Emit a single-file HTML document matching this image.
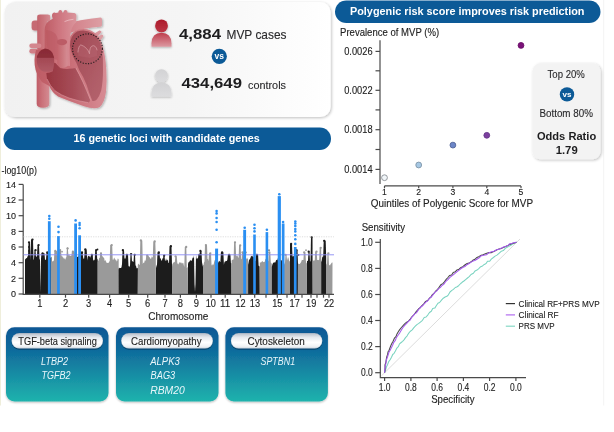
<!DOCTYPE html>
<html><head><meta charset="utf-8"><title>MVP genetics</title>
<style>
html,body{margin:0;padding:0;background:#fff;}
body{width:614px;height:432px;overflow:hidden;font-family:'Liberation Sans',sans-serif;}
svg{display:block;font-family:'Liberation Sans',sans-serif;}
</style></head><body>
<svg width="614" height="432" viewBox="0 0 614 432">
<defs>
<linearGradient id="card" x1="0" x2="1" y1="0" y2="0"><stop offset="0" stop-color="#f1f1f1"/><stop offset="0.55" stop-color="#f5f5f5"/><stop offset="1" stop-color="#ffffff"/></linearGradient>
<linearGradient id="gbox" x1="0" x2="0" y1="0" y2="1"><stop offset="0" stop-color="#0c5795"/><stop offset="0.3" stop-color="#0f6a9c"/><stop offset="1" stop-color="#20b3ad"/></linearGradient>
<linearGradient id="pill" x1="0" x2="0" y1="0" y2="1"><stop offset="0" stop-color="#b4bcc8"/><stop offset="0.28" stop-color="#e6e9ee"/><stop offset="0.6" stop-color="#ffffff"/><stop offset="0.85" stop-color="#f1f3f6"/><stop offset="1" stop-color="#cdd4dc"/></linearGradient>
<filter id="sh3" x="-10%" y="-30%" width="120%" height="170%"><feGaussianBlur in="SourceAlpha" stdDeviation="0.7"/><feOffset dx="0.3" dy="0.8"/><feComponentTransfer><feFuncA type="linear" slope="0.45"/></feComponentTransfer><feMerge><feMergeNode/><feMergeNode in="SourceGraphic"/></feMerge></filter>
<linearGradient id="redp" x1="0" x2="0" y1="0" y2="1"><stop offset="0" stop-color="#ab1b2a"/><stop offset="1" stop-color="#bd3544"/></linearGradient>
<linearGradient id="redpb" x1="0" x2="0" y1="0" y2="1"><stop offset="0" stop-color="#be3c4b"/><stop offset="1" stop-color="#dc9aa2"/></linearGradient>
<linearGradient id="greyp" x1="0" x2="0" y1="0" y2="1"><stop offset="0" stop-color="#d2d2d4"/><stop offset="1" stop-color="#dcdcde"/></linearGradient>
<filter id="sh" x="-10%" y="-10%" width="120%" height="130%"><feGaussianBlur in="SourceAlpha" stdDeviation="1.5"/><feOffset dx="0.5" dy="1"/><feComponentTransfer><feFuncA type="linear" slope="0.26"/></feComponentTransfer><feMerge><feMergeNode/><feMergeNode in="SourceGraphic"/></feMerge></filter>
<filter id="sh2" x="-10%" y="-10%" width="120%" height="130%"><feGaussianBlur in="SourceAlpha" stdDeviation="0.9"/><feOffset dx="0.4" dy="0.8"/><feComponentTransfer><feFuncA type="linear" slope="0.28"/></feComponentTransfer><feMerge><feMergeNode/><feMergeNode in="SourceGraphic"/></feMerge></filter>
<filter id="b03"><feGaussianBlur stdDeviation="0.35"/></filter>
</defs>
<rect width="614" height="432" fill="#fff"/>
<rect x="0" y="0" width="1" height="405.5" fill="#efeedb"/>
<line x1="603.7" y1="0" x2="603.7" y2="405.5" stroke="#f3f3f3" stroke-width="1"/>

<rect x="4.6" y="2" width="326" height="115" rx="10.5" fill="url(#card)" filter="url(#sh)"/>
<defs>
<linearGradient id="hTube" x1="0" x2="1" y1="0" y2="0"><stop offset="0" stop-color="#c3626b"/><stop offset="0.5" stop-color="#cb767d"/><stop offset="1" stop-color="#d58d94"/></linearGradient>
<linearGradient id="hTube2" x1="0" x2="1" y1="0" y2="0"><stop offset="0" stop-color="#c05d67"/><stop offset="0.5" stop-color="#cc757d"/><stop offset="1" stop-color="#d48b92"/></linearGradient>
<linearGradient id="hAorta" x1="0" x2="1" y1="0" y2="0"><stop offset="0" stop-color="#be5c64"/><stop offset="0.5" stop-color="#cf7781"/><stop offset="1" stop-color="#da959c"/></linearGradient>
<linearGradient id="hPA" x1="0" x2="1" y1="0" y2="0"><stop offset="0" stop-color="#cf7881"/><stop offset="1" stop-color="#dd9ea4"/></linearGradient>
<linearGradient id="hWall" x1="0" x2="1" y1="0" y2="0"><stop offset="0" stop-color="#bd5a63"/><stop offset="0.5" stop-color="#c96e77"/><stop offset="1" stop-color="#d78c94"/></linearGradient>
<linearGradient id="hCav" x1="0" x2="1" y1="0" y2="0"><stop offset="0" stop-color="#97353f"/><stop offset="0.6" stop-color="#a64c57"/><stop offset="1" stop-color="#b3616b"/></linearGradient>
<linearGradient id="hCavL" x1="0" x2="1" y1="0" y2="1"><stop offset="0" stop-color="#9f4550"/><stop offset="0.5" stop-color="#ab5661"/><stop offset="1" stop-color="#b5646e"/></linearGradient>
<linearGradient id="hRA" x1="0" x2="0" y1="0" y2="1"><stop offset="0" stop-color="#892a35"/><stop offset="0.38" stop-color="#8c2e39"/><stop offset="0.4" stop-color="#a34853"/><stop offset="1" stop-color="#b05a65"/></linearGradient>
<filter id="hsh" x="-10%" y="-10%" width="125%" height="125%"><feGaussianBlur in="SourceAlpha" stdDeviation="1.1"/><feOffset dx="0.8" dy="0.8"/><feComponentTransfer><feFuncA type="linear" slope="0.3"/></feComponentTransfer><feMerge><feMergeNode/><feMergeNode in="SourceGraphic"/></feMerge></filter>
<filter id="hb"><feGaussianBlur stdDeviation="0.3"/></filter>
</defs>
<g filter="url(#hsh)"><g filter="url(#hb)">
<!-- right pulmonary artery band -->
<path d="M62 25 Q80 19.5 100.5 17.6 Q102 17.6 102 19.5 L102 25 Q102 26.8 100.3 26.8 Q84 27.5 70 33 Z" fill="url(#hPA)"/>
<!-- right pulmonary vein stubs -->
<path d="M92 35 L99.3 30.4 Q101.2 30.2 101.6 32 L95.5 38.5 Z" fill="#d9959c"/>
<path d="M95 38.5 L101.5 34.6 Q103.6 34.6 103.4 36.6 L99 42 Z" fill="#dc9ca2"/>
<!-- left stubs -->
<!-- SVC -->
<rect x="31.6" y="20.4" width="12" height="10.2" rx="3" fill="#c66a73"/>
<path d="M37.2 17 Q37.2 14.6 40 14.6 L47.6 14.6 Q50.2 14.6 50.2 17 L50.2 20.6 L47.4 21.5 L47.4 64 L37.3 64 Z" fill="url(#hTube)"/>
<rect x="29.3" y="43.4" width="12.2" height="4.7" rx="2.3" fill="#d4868e"/>
<rect x="29.3" y="48.7" width="9.5" height="4.9" rx="2.4" fill="#d17e86"/>
<!-- IVC -->
<path d="M36.7 70 L49.3 70 L49.3 104 Q49 107.8 43 107.8 Q37 107.8 36.7 104 Z" fill="url(#hTube2)"/>
<!-- heart outer wall -->
<path d="M36 50 Q33.2 60 35.6 70 Q37.2 76 42 82 L49.3 86 Q52 92.5 58 96.5 Q70 101.5 84 106.3 Q94 109.5 99.5 107.3 Q104.5 103 106 92 Q107 80 106.3 70 Q105.5 55 102 44 Q99 34.5 91 30.5 Q82 27.5 75 31 Q69 35 68 44 L50 48 Z" fill="url(#hWall)"/>
<!-- aorta body -->
<path d="M44.6 64 L44.6 30 Q45 22.5 50.5 20 L52.6 18.8 L52 16 Q52 13.9 52.6 13.6 Q54 11.6 55.8 13 L58.4 12.6 L58.5 11.2 Q60.2 8.8 62 11 L62.1 12.4 L63.6 12.3 L63.7 11 Q65.5 8.8 67.3 11 L67.4 12.5 L74 12.9 Q76.5 13.2 76.4 16 L76 22.5 Q72.5 25 71 31 Q69.5 40 69.5 50 L70 66 Z" fill="url(#hAorta)"/>
<!-- darker inner aortic arc -->
<path d="M46.2 30 Q52 30.5 55.5 34 Q58.5 38 58.3 46 L58 60 L50 58 Q48 50 46.8 44 Z" fill="#b9565f" opacity="0.5"/>
<!-- light highlight line -->
<path d="M64.5 21.6 Q69 19.6 73.5 19.3" stroke="#f0c5ca" stroke-width="0.8" fill="none" opacity="0.9"/>
<!-- left atrium / LV cavity -->
<path d="M76.3 62.8 Q71.5 55 70 46 Q69.8 36 77 31.6 Q85 28.8 92.5 33 Q99 37.5 101.5 47 Q103.5 58 103 70 Q103 82 101.2 90.6 Q99.5 96.5 96.8 99.4 Q94.5 101.5 92.4 100.9 Q89 93 86.6 84.8 Q83 76 79.2 70.1 Z" fill="url(#hCavL)"/>
<!-- RV cavity -->
<path d="M46.3 73 Q50 72.6 52.9 70.9 Q52 66.5 53.3 64 Q54.4 61.8 56 63.4 Q58.5 66.5 60.2 67.9 Q64.5 69.3 69 68.7 Q72.5 68.6 75.6 67.9 Q79.5 75 83.6 83.3 Q87.5 92 90.2 99.4 Q90 102.2 88 102.4 Q78 101 69 98 Q60.5 95 54.3 90.6 Q49.5 85.5 47 78.9 Z" fill="url(#hCav)"/>
<!-- pulmonary trunk cylinder -->
<path d="M56.8 42 L67.1 42 L67.6 66 Q64 69 60.2 67.6 L57.3 64 Z" fill="url(#hTube)"/>
<ellipse cx="61.95" cy="42.1" rx="5.15" ry="3.2" fill="#bc5c66"/>
<!-- right atrium -->
<path d="M36.6 60 Q36.8 50.5 45 48.6 Q52.4 49.2 54 57 Q54.8 65 52.6 71.2 Q47 72.6 42 71 Q36.9 67.5 36.6 60 Z" fill="url(#hRA)"/>
<!-- wall highlights -->
<path d="M90.5 99.8 Q86.5 90 83 82 Q79 73.5 75.9 68" stroke="#dc9aa1" stroke-width="0.9" fill="none" opacity="0.8"/>
<path d="M47 79 Q50 86 55 90.8 Q61 95.2 69 98 Q79 101.2 88 102.6" stroke="#dc9aa1" stroke-width="0.8" fill="none" opacity="0.7"/>
<!-- valve leaflets -->
<path d="M77.9 52.4 Q78.6 45.6 80.8 44.9 Q84 45.8 86.6 48.6 Q88.8 50.8 89.5 53.8 Q89.6 47.4 91.8 46.1 Q93.6 45.2 94.9 46.2 Q96.8 47.8 97.1 50.3 L97 56 L89.5 58 L78.5 56 Z" fill="#b96672" opacity="0.35"/>
<path d="M77.9 52.4 Q78.6 45.6 80.8 44.9 Q84 45.8 86.6 48.6 Q88.8 50.8 89.5 53.8 Q89.6 47.4 91.8 46.1 Q93.6 45.2 94.9 46.2 Q96.8 47.8 97.1 50.3" stroke="#d69aa1" stroke-width="0.8" fill="none" opacity="0.9"/>
</g>
<circle cx="87.5" cy="48.8" r="14.9" fill="none" stroke="#1f1a1c" stroke-width="1.1" stroke-dasharray="1.15 1.55"/>
</g>

<g fill="url(#redpb)" filter="url(#sh2)"><circle cx="161.5" cy="25.900000000000002" r="6.4" fill="url(#redp)"/><path d="M151.5 46.8 v-3.5 q0.3 -10.6 10 -10.6 q9.7 0 10 10.6 v3.5 z"/></g>
<g fill="url(#greyp)" filter="url(#sh2)"><circle cx="161.5" cy="75.6" r="6.4" fill="url(#greyp)"/><path d="M151.5 96.5 v-3.5 q0.3 -10.6 10 -10.6 q9.7 0 10 10.6 v3.5 z"/></g>
<text x="179" y="38.6" font-size="14.2" text-anchor="start" font-weight="bold" font-style="normal" fill="#1d1d1f" textLength="42" lengthAdjust="spacingAndGlyphs">4,884</text>
<text x="226.5" y="38.6" font-size="12.6" text-anchor="start" font-weight="normal" font-style="normal" fill="#2a2a2c" textLength="60" lengthAdjust="spacingAndGlyphs" stroke="#2a2a2c" stroke-width="0.12">MVP cases</text>
<circle cx="219.3" cy="56.3" r="7.6" fill="#0c5a97"/>
<text x="219.3" y="59.2" font-size="8.5" text-anchor="middle" font-weight="bold" font-style="normal" fill="#fff">vs</text>
<text x="181.5" y="88.1" font-size="14.2" text-anchor="start" font-weight="bold" font-style="normal" fill="#1d1d1f" textLength="60.5" lengthAdjust="spacingAndGlyphs">434,649</text>
<text x="248" y="88.5" font-size="10.8" text-anchor="start" font-weight="normal" font-style="normal" fill="#2a2a2c" textLength="38" lengthAdjust="spacingAndGlyphs" stroke="#2a2a2c" stroke-width="0.12">controls</text>
<rect x="3.5" y="127.5" width="327.5" height="22.5" rx="11.2" fill="#0c5a97"/>
<text x="73.4" y="142.1" font-size="10.4" text-anchor="start" font-weight="bold" font-style="normal" fill="#fff" textLength="186.5" lengthAdjust="spacingAndGlyphs">16 genetic loci with candidate genes</text>
<rect x="335" y="0.4" width="265.5" height="22.6" rx="11.3" fill="#0c5a97"/>
<text x="350" y="15.2" font-size="10.9" text-anchor="start" font-weight="bold" font-style="normal" fill="#fff" textLength="234.5" lengthAdjust="spacingAndGlyphs">Polygenic risk score improves risk prediction</text>
<text x="1.5" y="174" font-size="10" text-anchor="start" font-weight="normal" font-style="normal" fill="#222" textLength="35.5" lengthAdjust="spacingAndGlyphs" stroke="#222" stroke-width="0.12">-log10(p)</text>
<g stroke="#4a4a4a" stroke-width="1.2" fill="none">
<path d="M23.2 184.4 V294.0"/>
<path d="M18.6 294.0 H23.2"/>
<path d="M18.6 278.3 H23.2"/>
<path d="M18.6 262.7 H23.2"/>
<path d="M18.6 247.0 H23.2"/>
<path d="M18.6 231.4 H23.2"/>
<path d="M18.6 215.7 H23.2"/>
<path d="M18.6 200.0 H23.2"/>
<path d="M18.6 184.4 H23.2"/>
</g>
<text x="16" y="297.35" font-size="9.4" text-anchor="end" font-weight="normal" font-style="normal" fill="#222" textLength="5" lengthAdjust="spacingAndGlyphs" stroke="#222" stroke-width="0.12">0</text>
<text x="16" y="281.69" font-size="9.4" text-anchor="end" font-weight="normal" font-style="normal" fill="#222" textLength="5" lengthAdjust="spacingAndGlyphs" stroke="#222" stroke-width="0.12">2</text>
<text x="16" y="266.03000000000003" font-size="9.4" text-anchor="end" font-weight="normal" font-style="normal" fill="#222" textLength="5" lengthAdjust="spacingAndGlyphs" stroke="#222" stroke-width="0.12">4</text>
<text x="16" y="250.36999999999998" font-size="9.4" text-anchor="end" font-weight="normal" font-style="normal" fill="#222" textLength="5" lengthAdjust="spacingAndGlyphs" stroke="#222" stroke-width="0.12">6</text>
<text x="16" y="234.71" font-size="9.4" text-anchor="end" font-weight="normal" font-style="normal" fill="#222" textLength="5" lengthAdjust="spacingAndGlyphs" stroke="#222" stroke-width="0.12">8</text>
<text x="16" y="219.04999999999998" font-size="9.4" text-anchor="end" font-weight="normal" font-style="normal" fill="#222" textLength="10" lengthAdjust="spacingAndGlyphs" stroke="#222" stroke-width="0.12">10</text>
<text x="16" y="203.39" font-size="9.4" text-anchor="end" font-weight="normal" font-style="normal" fill="#222" textLength="10" lengthAdjust="spacingAndGlyphs" stroke="#222" stroke-width="0.12">12</text>
<text x="16" y="187.73" font-size="9.4" text-anchor="end" font-weight="normal" font-style="normal" fill="#222" textLength="10" lengthAdjust="spacingAndGlyphs" stroke="#222" stroke-width="0.12">14</text>
<g filter="url(#b03)">
<path d="M25.0 294.0 L25.0 259.4 L25.5 258.9 L26.0 258.5 L26.5 257.9 L27.0 258.0 L27.5 256.5 L28.0 255.8 L28.5 242.3 L29.0 242.3 L29.5 242.3 L30.0 242.3 L30.5 260.3 L31.0 239.6 L31.5 239.6 L32.0 239.6 L32.5 239.6 L33.0 239.6 L33.5 260.2 L34.0 258.8 L34.5 250.2 L35.0 250.2 L35.5 250.2 L36.0 256.6 L36.5 256.8 L37.0 256.2 L37.5 245.1 L38.0 245.1 L38.5 245.1 L39.0 245.1 L39.5 258.8 L40.0 259.9 L40.5 292.4 L41.0 258.6 L41.5 253.3 L42.0 253.3 L42.5 253.3 L43.0 253.3 L43.5 253.3 L44.0 253.3 L44.5 253.3 L45.0 260.1 L45.5 259.4 L46.0 260.1 L46.5 252.5 L47.0 252.5 L47.5 252.5 L48.0 252.5 L48.5 252.5 L49.0 258.4 L49.5 257.9 L50.0 257.1 L50.5 258.0 L51.0 257.4 L51.5 256.5 L51.4 294.0 Z" fill="#1c1c1c"/>
<path d="M51.4 294.0 L51.4 261.4 L51.9 261.2 L52.4 261.3 L52.9 261.5 L53.4 260.2 L53.9 261.4 L54.4 250.9 L54.9 250.9 L55.4 250.9 L55.9 250.9 L56.4 250.9 L56.9 250.9 L57.4 255.5 L57.9 255.4 L58.4 254.4 L58.9 253.0 L59.4 250.2 L59.9 250.2 L60.4 250.2 L60.9 250.2 L61.4 255.3 L61.9 256.6 L62.4 256.3 L62.9 257.5 L63.4 258.8 L63.9 257.1 L64.4 258.6 L64.9 259.3 L65.4 259.5 L65.9 257.5 L66.4 257.2 L66.9 248.6 L67.4 248.6 L67.9 248.6 L68.4 255.7 L68.9 254.6 L69.4 255.4 L69.9 255.5 L70.4 256.1 L70.9 256.1 L71.4 255.6 L71.9 251.7 L72.4 251.7 L72.9 251.7 L73.4 251.7 L73.9 251.7 L74.4 251.7 L74.9 258.0 L75.4 258.5 L75.9 260.8 L75.7 294.0 Z" fill="#9a9a9a"/>
<path d="M75.7 294.0 L75.7 257.3 L76.2 256.1 L76.7 256.1 L77.2 256.7 L77.7 256.9 L78.2 256.7 L78.7 255.5 L79.2 255.3 L79.7 255.7 L80.2 255.5 L80.7 255.0 L81.2 252.5 L81.7 252.5 L82.2 252.5 L82.7 252.5 L83.2 258.0 L83.7 259.0 L84.2 258.3 L84.7 249.4 L85.2 249.4 L85.7 249.4 L86.2 249.4 L86.7 249.4 L87.2 260.4 L87.7 257.1 L88.2 255.7 L88.7 256.1 L89.2 256.7 L89.7 256.2 L90.2 255.7 L90.7 257.9 L91.2 254.8 L91.7 254.8 L92.2 254.8 L92.7 254.8 L93.2 260.9 L93.7 260.1 L94.2 259.6 L94.7 260.6 L95.2 250.2 L95.7 250.2 L96.2 250.2 L96.7 250.2 L97.2 258.9 L97.7 259.5 L97.7 294.0 Z" fill="#1c1c1c"/>
<path d="M97.7 294.0 L97.7 262.2 L98.2 260.7 L98.7 260.2 L99.2 257.9 L99.7 258.0 L100.2 253.3 L100.7 253.3 L101.2 253.3 L101.7 253.3 L102.2 256.4 L102.7 256.3 L103.2 257.1 L103.7 257.8 L104.2 258.3 L104.7 261.2 L105.2 259.8 L105.7 260.9 L106.2 261.7 L106.7 263.1 L107.2 262.8 L107.7 263.0 L108.2 263.1 L108.7 262.8 L109.2 261.0 L109.7 261.9 L110.2 245.1 L110.7 245.1 L111.2 245.1 L111.7 245.1 L112.2 245.1 L112.7 259.4 L113.2 259.9 L113.7 258.7 L114.2 257.5 L114.7 258.6 L115.2 260.5 L115.7 259.1 L116.2 259.9 L116.7 261.6 L117.2 260.9 L117.7 258.5 L118.2 258.7 L118.7 259.4 L118.5 294.0 Z" fill="#9a9a9a"/>
<path d="M118.5 294.0 L118.5 269.4 L119.0 267.5 L119.5 268.2 L120.0 268.0 L120.5 268.1 L121.0 268.0 L121.5 267.2 L122.0 264.2 L122.5 250.2 L123.0 250.2 L123.5 250.2 L124.0 250.2 L124.5 258.9 L125.0 258.0 L125.5 259.1 L126.0 254.8 L126.5 254.8 L127.0 254.8 L127.5 254.8 L128.0 254.8 L128.5 266.6 L129.0 265.7 L129.5 267.2 L130.0 265.4 L130.5 254.1 L131.0 254.1 L131.5 254.1 L132.0 261.4 L132.5 261.1 L133.0 261.8 L133.5 262.1 L134.0 254.8 L134.5 254.8 L135.0 254.8 L135.5 265.6 L136.0 265.8 L136.5 268.0 L137.0 268.4 L137.5 267.7 L138.0 268.5 L137.8 294.0 Z" fill="#1c1c1c"/>
<path d="M137.8 294.0 L137.8 265.0 L138.3 263.4 L138.8 264.3 L139.3 264.8 L139.8 264.9 L140.3 240.4 L140.8 240.4 L141.3 240.4 L141.8 240.4 L142.3 240.4 L142.8 264.2 L143.3 262.5 L143.8 263.1 L144.3 262.5 L144.8 260.3 L145.3 260.9 L145.8 259.7 L146.3 255.6 L146.8 255.6 L147.3 255.6 L147.8 255.6 L148.3 255.6 L148.8 256.3 L149.3 257.8 L149.8 256.8 L150.3 258.4 L150.8 258.9 L151.3 258.2 L151.8 256.2 L152.3 257.3 L152.8 257.4 L153.3 241.5 L153.8 241.5 L154.3 241.5 L154.8 241.5 L155.3 241.5 L155.8 258.7 L156.0 294.0 Z" fill="#9a9a9a"/>
<path d="M156.0 294.0 L156.0 268.0 L156.5 266.0 L157.0 264.4 L157.5 252.5 L158.0 252.5 L158.5 252.5 L159.0 252.5 L159.5 252.5 L160.0 259.0 L160.5 257.8 L161.0 259.5 L161.5 260.8 L162.0 260.5 L162.5 258.1 L163.0 258.8 L163.5 255.6 L164.0 255.6 L164.5 255.6 L165.0 260.8 L165.5 260.7 L166.0 258.3 L166.5 260.0 L167.0 261.1 L167.5 259.5 L168.0 260.3 L168.5 262.9 L169.0 263.1 L169.5 246.2 L170.0 246.2 L170.5 246.2 L171.0 246.2 L171.5 246.2 L172.0 264.2 L172.5 266.8 L172.3 294.0 Z" fill="#1c1c1c"/>
<path d="M172.3 294.0 L172.3 264.4 L172.8 263.4 L173.3 262.5 L173.8 262.4 L174.3 262.0 L174.8 262.2 L175.3 256.4 L175.8 256.4 L176.3 256.4 L176.8 256.4 L177.3 263.1 L177.8 263.9 L178.3 264.5 L178.8 263.6 L179.3 262.4 L179.8 262.3 L180.3 262.7 L180.8 262.5 L181.3 262.6 L181.8 263.6 L182.3 263.5 L182.8 262.8 L183.3 263.1 L183.8 265.3 L184.3 267.1 L184.8 247.0 L185.3 247.0 L185.8 247.0 L186.3 247.0 L186.8 268.3 L187.3 266.9 L187.8 267.8 L188.0 294.0 Z" fill="#9a9a9a"/>
<path d="M188.0 294.0 L188.0 263.9 L188.5 262.3 L189.0 261.9 L189.5 261.4 L190.0 260.5 L190.5 260.2 L191.0 260.4 L191.5 261.0 L192.0 259.9 L192.5 257.9 L193.0 257.4 L193.5 257.9 L194.0 255.3 L194.5 283.2 L195.0 291.7 L195.5 283.2 L196.0 255.3 L196.5 258.2 L197.0 258.9 L197.5 258.3 L198.0 257.9 L198.5 254.8 L199.0 254.8 L199.5 254.8 L200.0 250.9 L200.5 250.9 L201.0 250.9 L201.5 250.9 L202.0 262.3 L202.5 264.8 L203.0 267.0 L203.0 294.0 Z" fill="#1c1c1c"/>
<path d="M203.0 294.0 L203.0 265.1 L203.5 265.2 L204.0 262.5 L204.5 261.6 L205.0 245.1 L205.5 245.1 L206.0 245.1 L206.5 245.1 L207.0 245.1 L207.5 259.1 L208.0 258.9 L208.5 261.2 L209.0 253.3 L209.5 253.3 L210.0 253.3 L210.5 253.3 L211.0 253.3 L211.5 264.4 L212.0 265.8 L212.5 264.4 L213.0 264.3 L213.5 265.0 L214.0 262.7 L214.5 260.5 L215.0 260.1 L215.5 259.8 L216.0 258.8 L216.5 259.2 L217.0 260.3 L217.5 261.4 L217.4 294.0 Z" fill="#9a9a9a"/>
<path d="M217.4 294.0 L217.4 263.6 L217.9 263.5 L218.4 261.9 L218.9 261.2 L219.4 260.8 L219.9 261.8 L220.4 262.0 L220.9 252.5 L221.4 252.5 L221.9 252.5 L222.4 252.5 L222.9 252.5 L223.4 252.5 L223.9 264.8 L224.4 262.2 L224.9 261.5 L225.4 261.6 L225.9 260.8 L226.4 260.9 L226.9 260.9 L227.4 259.4 L227.9 254.8 L228.4 254.8 L228.9 254.8 L229.4 254.8 L229.9 254.8 L230.4 254.8 L230.9 262.8 L231.4 263.5 L231.6 294.0 Z" fill="#1c1c1c"/>
<path d="M231.6 294.0 L231.6 260.4 L232.1 260.1 L232.6 260.1 L233.1 258.8 L233.6 260.3 L234.1 242.3 L234.6 242.3 L235.1 242.3 L235.6 242.3 L236.1 256.6 L236.6 255.5 L237.1 255.2 L237.6 255.9 L238.1 257.2 L238.6 258.0 L239.1 245.5 L239.6 245.5 L240.1 245.5 L240.6 245.5 L241.1 259.3 L241.6 258.9 L242.1 252.5 L242.6 252.5 L243.1 252.5 L243.6 252.5 L244.1 260.3 L244.6 259.1 L245.1 258.2 L245.6 259.0 L246.1 259.3 L246.6 258.4 L247.1 257.6 L247.6 258.7 L248.1 259.2 L248.1 294.0 Z" fill="#9a9a9a"/>
<path d="M248.1 294.0 L248.1 264.8 L248.6 262.4 L249.1 259.7 L249.6 259.6 L250.1 258.7 L250.6 257.5 L251.1 255.7 L251.6 256.6 L252.1 255.6 L252.6 256.6 L253.1 256.7 L253.6 257.2 L254.1 257.4 L254.6 260.8 L255.1 261.0 L255.6 260.7 L256.1 254.8 L256.6 254.8 L257.1 254.8 L257.6 254.8 L258.1 254.8 L258.6 265.6 L259.1 266.3 L259.6 266.3 L259.8 294.0 Z" fill="#1c1c1c"/>
<path d="M259.8 294.0 L259.8 262.3 L260.3 262.6 L260.8 262.4 L261.3 262.2 L261.8 261.4 L262.3 261.5 L262.8 260.9 L263.3 262.3 L263.8 262.0 L264.3 262.1 L264.8 261.5 L265.3 259.2 L265.8 258.7 L266.3 258.9 L266.8 259.0 L267.3 258.4 L267.8 259.4 L268.3 261.5 L268.8 252.5 L269.3 252.5 L269.8 252.5 L270.3 252.5 L270.8 262.5 L271.3 263.0 L271.8 263.9 L271.8 294.0 Z" fill="#9a9a9a"/>
<path d="M271.8 294.0 L271.8 267.1 L272.3 264.7 L272.8 263.6 L273.3 262.4 L273.8 262.7 L274.3 262.3 L274.8 262.4 L275.3 262.4 L275.8 261.1 L276.3 259.8 L276.8 259.9 L277.3 260.2 L277.8 258.2 L278.3 258.2 L278.8 258.3 L279.3 258.0 L279.8 258.2 L280.3 259.9 L280.8 260.3 L281.3 260.3 L281.8 260.3 L282.3 263.3 L282.8 264.7 L283.3 266.1 L283.8 266.3 L284.0 294.0 Z" fill="#1c1c1c"/>
<path d="M284.0 294.0 L284.0 264.8 L284.5 263.7 L285.0 262.2 L285.5 254.8 L286.0 254.8 L286.5 254.8 L287.0 260.6 L287.5 259.0 L288.0 256.9 L288.5 258.0 L289.0 260.5 L289.5 261.0 L290.0 261.7 L290.0 294.0 Z" fill="#9a9a9a"/>
<path d="M290.0 294.0 L290.0 243.9 L290.5 243.9 L291.0 243.9 L291.5 243.9 L292.0 243.9 L292.5 256.9 L293.0 255.7 L293.5 255.9 L294.0 256.8 L294.5 257.6 L295.0 257.6 L295.5 258.5 L296.0 250.2 L296.5 250.2 L297.0 250.2 L297.5 250.2 L298.0 263.7 L297.9 294.0 Z" fill="#1c1c1c"/>
<path d="M297.9 294.0 L297.9 264.6 L298.4 263.7 L298.9 263.4 L299.4 264.0 L299.9 264.0 L300.4 262.9 L300.9 262.5 L301.4 261.3 L301.9 259.7 L302.4 259.9 L302.9 260.1 L303.4 260.1 L303.9 252.5 L304.4 252.5 L304.9 252.5 L305.4 252.5 L305.9 260.9 L306.4 263.4 L306.9 262.8 L307.0 294.0 Z" fill="#9a9a9a"/>
<path d="M307.0 294.0 L307.0 261.1 L307.5 261.1 L308.0 260.5 L308.5 251.7 L309.0 251.7 L309.5 251.7 L310.0 261.7 L310.5 261.1 L311.0 237.2 L311.5 237.2 L312.0 237.2 L312.5 237.2 L312.7 294.0 Z" fill="#1c1c1c"/>
<path d="M312.7 294.0 L312.7 260.8 L313.2 260.6 L313.7 260.8 L314.2 260.3 L314.7 260.7 L315.2 251.7 L315.7 251.7 L316.2 251.7 L316.7 251.7 L317.2 260.0 L317.7 259.9 L318.2 260.0 L318.7 260.2 L319.2 259.2 L319.7 247.8 L320.2 247.8 L320.7 247.8 L321.2 247.8 L321.2 294.0 Z" fill="#9a9a9a"/>
<path d="M321.2 294.0 L321.2 262.0 L321.7 260.8 L322.2 257.6 L322.7 256.5 L323.2 256.6 L323.7 240.8 L324.2 240.8 L324.7 240.8 L325.2 240.8 L325.7 240.8 L326.2 258.5 L326.0 294.0 Z" fill="#1c1c1c"/>
<path d="M326.0 294.0 L326.0 265.8 L326.5 263.8 L327.0 263.8 L327.5 253.3 L328.0 253.3 L328.5 253.3 L329.0 264.9 L329.5 264.9 L330.0 265.7 L330.5 264.3 L331.0 263.9 L331.5 262.8 L332.0 262.7 L332.5 262.2 L332.4 294.0 Z" fill="#9a9a9a"/>
<circle cx="29.0" cy="242.3" r="1.15" fill="#1c1c1c"/>
<circle cx="32.5" cy="239.6" r="1.15" fill="#1c1c1c"/>
<circle cx="38.6" cy="245.1" r="1.15" fill="#1c1c1c"/>
<circle cx="35.5" cy="250.2" r="1.15" fill="#1c1c1c"/>
<circle cx="47.3" cy="252.5" r="1.15" fill="#1c1c1c"/>
<circle cx="42.6" cy="253.3" r="1.15" fill="#1c1c1c"/>
<circle cx="85.3" cy="249.4" r="1.15" fill="#1c1c1c"/>
<circle cx="82.0" cy="252.5" r="1.15" fill="#1c1c1c"/>
<circle cx="96.2" cy="250.2" r="1.15" fill="#1c1c1c"/>
<circle cx="91.9" cy="254.8" r="1.15" fill="#1c1c1c"/>
<circle cx="122.9" cy="250.2" r="1.15" fill="#1c1c1c"/>
<circle cx="126.9" cy="254.8" r="1.15" fill="#1c1c1c"/>
<circle cx="131.1" cy="254.1" r="1.15" fill="#1c1c1c"/>
<circle cx="134.7" cy="254.8" r="1.15" fill="#1c1c1c"/>
<circle cx="170.9" cy="246.2" r="1.15" fill="#1c1c1c"/>
<circle cx="158.8" cy="252.5" r="1.15" fill="#1c1c1c"/>
<circle cx="164.2" cy="255.6" r="1.15" fill="#1c1c1c"/>
<circle cx="200.4" cy="250.9" r="1.15" fill="#1c1c1c"/>
<circle cx="199.3" cy="254.8" r="1.15" fill="#1c1c1c"/>
<circle cx="222.1" cy="252.5" r="1.15" fill="#1c1c1c"/>
<circle cx="229.1" cy="254.8" r="1.15" fill="#1c1c1c"/>
<circle cx="256.9" cy="254.8" r="1.15" fill="#1c1c1c"/>
<circle cx="291.1" cy="243.9" r="1.15" fill="#1c1c1c"/>
<circle cx="296.5" cy="250.2" r="1.15" fill="#1c1c1c"/>
<circle cx="311.7" cy="237.2" r="1.15" fill="#1c1c1c"/>
<circle cx="308.7" cy="251.7" r="1.15" fill="#1c1c1c"/>
<circle cx="324.2" cy="240.8" r="1.15" fill="#1c1c1c"/>
<circle cx="67.6" cy="248.6" r="1.15" fill="#9a9a9a"/>
<circle cx="60.1" cy="250.2" r="1.15" fill="#9a9a9a"/>
<circle cx="55.3" cy="250.9" r="1.15" fill="#9a9a9a"/>
<circle cx="72.9" cy="251.7" r="1.15" fill="#9a9a9a"/>
<circle cx="111.7" cy="245.1" r="1.15" fill="#9a9a9a"/>
<circle cx="101.0" cy="253.3" r="1.15" fill="#9a9a9a"/>
<circle cx="140.9" cy="240.4" r="1.15" fill="#9a9a9a"/>
<circle cx="154.7" cy="241.5" r="1.15" fill="#9a9a9a"/>
<circle cx="147.2" cy="255.6" r="1.15" fill="#9a9a9a"/>
<circle cx="186.2" cy="247.0" r="1.15" fill="#9a9a9a"/>
<circle cx="175.6" cy="256.4" r="1.15" fill="#9a9a9a"/>
<circle cx="205.9" cy="245.1" r="1.15" fill="#9a9a9a"/>
<circle cx="210.3" cy="253.3" r="1.15" fill="#9a9a9a"/>
<circle cx="235.0" cy="242.3" r="1.15" fill="#9a9a9a"/>
<circle cx="240.2" cy="245.5" r="1.15" fill="#9a9a9a"/>
<circle cx="242.5" cy="252.5" r="1.15" fill="#9a9a9a"/>
<circle cx="269.3" cy="252.5" r="1.15" fill="#9a9a9a"/>
<circle cx="285.6" cy="254.8" r="1.15" fill="#9a9a9a"/>
<circle cx="304.2" cy="252.5" r="1.15" fill="#9a9a9a"/>
<circle cx="316.5" cy="251.7" r="1.15" fill="#9a9a9a"/>
<circle cx="320.7" cy="247.8" r="1.15" fill="#9a9a9a"/>
<circle cx="328.4" cy="253.3" r="1.15" fill="#9a9a9a"/>
<circle cx="29" cy="247.0" r="0.9" fill="#1c1c1c"/>
<circle cx="29" cy="250.9" r="0.9" fill="#1c1c1c"/>
<circle cx="67.5" cy="248.2" r="0.9" fill="#9a9a9a"/>
<circle cx="62" cy="251.7" r="0.9" fill="#9a9a9a"/>
<circle cx="97.5" cy="249.4" r="0.9" fill="#1c1c1c"/>
<circle cx="246" cy="252.5" r="0.9" fill="#9a9a9a"/>
<circle cx="269" cy="250.2" r="0.9" fill="#777"/>
<circle cx="306" cy="250.2" r="0.9" fill="#9a9a9a"/>
<circle cx="298.5" cy="254.8" r="0.9" fill="#1c1c1c"/>
</g>
<line x1="23.5" x2="334" y1="254.8" y2="254.8" stroke="#9090f4" stroke-width="1" opacity="0.95"/>
<line x1="23.5" x2="334" y1="236.8" y2="236.8" stroke="#d9d9d9" stroke-width="0.9" stroke-dasharray="1.2 1.2"/>
<g filter="url(#b03)">
<rect x="47.9" y="221.2" width="2.8" height="72.8" fill="#2b8ff2"/>
<circle cx="49.3" cy="218.8" r="1.3" fill="#2b8ff2"/>
<circle cx="49.3" cy="216.1" r="1.3" fill="#2b8ff2"/>
<rect x="57.1" y="236.1" width="2.7" height="57.9" fill="#2b8ff2"/>
<circle cx="58.5" cy="232.1" r="1.3" fill="#2b8ff2"/>
<circle cx="58.5" cy="226.7" r="1.3" fill="#2b8ff2"/>
<rect x="74.2" y="223.5" width="2.8" height="70.5" fill="#2b8ff2"/>
<circle cx="75.6" cy="220.4" r="1.3" fill="#2b8ff2"/>
<rect x="78.2" y="235.3" width="2.8" height="58.7" fill="#2b8ff2"/>
<circle cx="79.6" cy="228.2" r="1.3" fill="#2b8ff2"/>
<circle cx="79.6" cy="225.1" r="1.3" fill="#2b8ff2"/>
<circle cx="79.6" cy="223.1" r="1.3" fill="#2b8ff2"/>
<rect x="215.1" y="248.6" width="3.0" height="45.4" fill="#2b8ff2"/>
<circle cx="216.6" cy="242.3" r="1.3" fill="#2b8ff2"/>
<circle cx="216.6" cy="229.8" r="1.3" fill="#2b8ff2"/>
<circle cx="216.6" cy="222.0" r="1.3" fill="#2b8ff2"/>
<circle cx="216.6" cy="218.0" r="1.3" fill="#2b8ff2"/>
<circle cx="216.6" cy="213.4" r="1.3" fill="#2b8ff2"/>
<circle cx="216.6" cy="211.0" r="1.3" fill="#2b8ff2"/>
<rect x="243.2" y="229.8" width="2.9" height="64.2" fill="#2b8ff2"/>
<circle cx="244.7" cy="227.8" r="1.3" fill="#2b8ff2"/>
<rect x="253.2" y="234.5" width="2.6" height="59.5" fill="#2b8ff2"/>
<circle cx="254.5" cy="231.4" r="1.3" fill="#2b8ff2"/>
<circle cx="254.5" cy="228.2" r="1.3" fill="#2b8ff2"/>
<circle cx="254.5" cy="224.7" r="1.3" fill="#2b8ff2"/>
<rect x="265.6" y="232.1" width="2.6" height="61.9" fill="#2b8ff2"/>
<circle cx="266.9" cy="229.8" r="1.3" fill="#2b8ff2"/>
<rect x="277.7" y="196.1" width="3.2" height="97.9" fill="#2b8ff2"/>
<circle cx="279.3" cy="194.2" r="1.3" fill="#2b8ff2"/>
<rect x="281.8" y="223.5" width="2.7" height="70.5" fill="#2b8ff2"/>
<circle cx="283.1" cy="222.0" r="1.3" fill="#2b8ff2"/>
<rect x="293.9" y="247.0" width="2.7" height="47.0" fill="#2b8ff2"/>
<circle cx="295.3" cy="243.9" r="1.3" fill="#2b8ff2"/>
<circle cx="295.3" cy="239.2" r="1.3" fill="#2b8ff2"/>
<circle cx="295.3" cy="235.3" r="1.3" fill="#2b8ff2"/>
<circle cx="295.3" cy="231.4" r="1.3" fill="#2b8ff2"/>
<circle cx="295.3" cy="229.0" r="1.3" fill="#2b8ff2"/>
<circle cx="295.3" cy="225.9" r="1.3" fill="#2b8ff2"/>
<circle cx="295.3" cy="223.5" r="1.3" fill="#2b8ff2"/>
<circle cx="295.3" cy="221.6" r="1.3" fill="#2b8ff2"/>
</g>
<g stroke="#4a4a4a" stroke-width="1.2" fill="none"><path d="M22.6 294.4 H334"/>
<path d="M39.8 294.5 v3.2"/>
<path d="M65.5 294.5 v3.2"/>
<path d="M88.7 294.5 v3.2"/>
<path d="M109.6 294.5 v3.2"/>
<path d="M128.7 294.5 v3.2"/>
<path d="M147.7 294.5 v3.2"/>
<path d="M165 294.5 v3.2"/>
<path d="M180.4 294.5 v3.2"/>
<path d="M196.4 294.5 v3.2"/>
<path d="M211 294.5 v3.2"/>
<path d="M225.2 294.5 v3.2"/>
<path d="M240.5 294.5 v3.2"/>
<path d="M254.7 294.5 v3.2"/>
<path d="M266 294.5 v3.2"/>
<path d="M277.3 294.5 v3.2"/>
<path d="M287 294.5 v3.2"/>
<path d="M294.7 294.5 v3.2"/>
<path d="M302 294.5 v3.2"/>
<path d="M311 294.5 v3.2"/>
<path d="M317 294.5 v3.2"/>
<path d="M323.5 294.5 v3.2"/>
<path d="M329 294.5 v3.2"/>
</g>
<text x="39.8" y="306.6" font-size="10" text-anchor="middle" font-weight="normal" font-style="normal" fill="#222" textLength="5.2" lengthAdjust="spacingAndGlyphs" stroke="#222" stroke-width="0.12">1</text>
<text x="65.5" y="306.6" font-size="10" text-anchor="middle" font-weight="normal" font-style="normal" fill="#222" textLength="5.2" lengthAdjust="spacingAndGlyphs" stroke="#222" stroke-width="0.12">2</text>
<text x="88.7" y="306.6" font-size="10" text-anchor="middle" font-weight="normal" font-style="normal" fill="#222" textLength="5.2" lengthAdjust="spacingAndGlyphs" stroke="#222" stroke-width="0.12">3</text>
<text x="109.6" y="306.6" font-size="10" text-anchor="middle" font-weight="normal" font-style="normal" fill="#222" textLength="5.2" lengthAdjust="spacingAndGlyphs" stroke="#222" stroke-width="0.12">4</text>
<text x="128.7" y="306.6" font-size="10" text-anchor="middle" font-weight="normal" font-style="normal" fill="#222" textLength="5.2" lengthAdjust="spacingAndGlyphs" stroke="#222" stroke-width="0.12">5</text>
<text x="147.7" y="306.6" font-size="10" text-anchor="middle" font-weight="normal" font-style="normal" fill="#222" textLength="5.2" lengthAdjust="spacingAndGlyphs" stroke="#222" stroke-width="0.12">6</text>
<text x="165" y="306.6" font-size="10" text-anchor="middle" font-weight="normal" font-style="normal" fill="#222" textLength="5.2" lengthAdjust="spacingAndGlyphs" stroke="#222" stroke-width="0.12">7</text>
<text x="180.4" y="306.6" font-size="10" text-anchor="middle" font-weight="normal" font-style="normal" fill="#222" textLength="5.2" lengthAdjust="spacingAndGlyphs" stroke="#222" stroke-width="0.12">8</text>
<text x="196.4" y="306.6" font-size="10" text-anchor="middle" font-weight="normal" font-style="normal" fill="#222" textLength="5.2" lengthAdjust="spacingAndGlyphs" stroke="#222" stroke-width="0.12">9</text>
<text x="210.8" y="306.6" font-size="10" text-anchor="middle" font-weight="normal" font-style="normal" fill="#222" textLength="10.2" lengthAdjust="spacingAndGlyphs" stroke="#222" stroke-width="0.12">10</text>
<text x="225.2" y="306.6" font-size="10" text-anchor="middle" font-weight="normal" font-style="normal" fill="#222" textLength="10.2" lengthAdjust="spacingAndGlyphs" stroke="#222" stroke-width="0.12">11</text>
<text x="240.6" y="306.6" font-size="10" text-anchor="middle" font-weight="normal" font-style="normal" fill="#222" textLength="10.2" lengthAdjust="spacingAndGlyphs" stroke="#222" stroke-width="0.12">12</text>
<text x="254.9" y="306.6" font-size="10" text-anchor="middle" font-weight="normal" font-style="normal" fill="#222" textLength="10.2" lengthAdjust="spacingAndGlyphs" stroke="#222" stroke-width="0.12">13</text>
<text x="277.3" y="306.6" font-size="10" text-anchor="middle" font-weight="normal" font-style="normal" fill="#222" textLength="10.2" lengthAdjust="spacingAndGlyphs" stroke="#222" stroke-width="0.12">15</text>
<text x="294.7" y="306.6" font-size="10" text-anchor="middle" font-weight="normal" font-style="normal" fill="#222" textLength="10.2" lengthAdjust="spacingAndGlyphs" stroke="#222" stroke-width="0.12">17</text>
<text x="311.2" y="306.6" font-size="10" text-anchor="middle" font-weight="normal" font-style="normal" fill="#222" textLength="10.2" lengthAdjust="spacingAndGlyphs" stroke="#222" stroke-width="0.12">19</text>
<text x="329" y="306.6" font-size="10" text-anchor="middle" font-weight="normal" font-style="normal" fill="#222" textLength="10.2" lengthAdjust="spacingAndGlyphs" stroke="#222" stroke-width="0.12">22</text>
<text x="148.2" y="319.6" font-size="10.4" text-anchor="start" font-weight="normal" font-style="normal" fill="#222" textLength="60.2" lengthAdjust="spacingAndGlyphs" stroke="#222" stroke-width="0.12">Chromosome</text>
<rect x="6" y="327.3" width="102.5" height="74.3" rx="8.5" fill="url(#gbox)" filter="url(#sh2)"/>
<rect x="11.6" y="333" width="91.4" height="15.6" rx="7.8" fill="url(#pill)" stroke="#0a4c80" stroke-opacity="0.35" stroke-width="0.5" filter="url(#sh3)"/>
<text x="18.3" y="344.5" font-size="10.2" text-anchor="start" font-weight="normal" font-style="normal" fill="#222" textLength="78.6" lengthAdjust="spacingAndGlyphs" stroke="#222" stroke-width="0.12">TGF-beta signaling</text>
<text x="41" y="365.0" font-size="10.6" text-anchor="start" font-weight="normal" font-style="italic" fill="#e8f6fa" textLength="27.1" lengthAdjust="spacingAndGlyphs">LTBP2</text>
<text x="41.5" y="379.4" font-size="10.6" text-anchor="start" font-weight="normal" font-style="italic" fill="#e8f6fa" textLength="29.1" lengthAdjust="spacingAndGlyphs">TGFB2</text>
<rect x="116" y="327.3" width="102.5" height="74.3" rx="8.5" fill="url(#gbox)" filter="url(#sh2)"/>
<rect x="121.2" y="333" width="91.7" height="15.6" rx="7.8" fill="url(#pill)" stroke="#0a4c80" stroke-opacity="0.35" stroke-width="0.5" filter="url(#sh3)"/>
<text x="131" y="344.5" font-size="10.2" text-anchor="start" font-weight="normal" font-style="normal" fill="#222" textLength="70.5" lengthAdjust="spacingAndGlyphs" stroke="#222" stroke-width="0.12">Cardiomyopathy</text>
<text x="150.2" y="365.0" font-size="10.6" text-anchor="start" font-weight="normal" font-style="italic" fill="#e8f6fa" textLength="29.6" lengthAdjust="spacingAndGlyphs">ALPK3</text>
<text x="150.6" y="379.4" font-size="10.6" text-anchor="start" font-weight="normal" font-style="italic" fill="#e8f6fa" textLength="24.6" lengthAdjust="spacingAndGlyphs">BAG3</text>
<text x="150.2" y="393.8" font-size="10.6" text-anchor="start" font-weight="normal" font-style="italic" fill="#e8f6fa" textLength="34.6" lengthAdjust="spacingAndGlyphs">RBM20</text>
<rect x="225.4" y="327.3" width="102.5" height="74.3" rx="8.5" fill="url(#gbox)" filter="url(#sh2)"/>
<rect x="230.9" y="333" width="91.4" height="15.6" rx="7.8" fill="url(#pill)" stroke="#0a4c80" stroke-opacity="0.35" stroke-width="0.5" filter="url(#sh3)"/>
<text x="247.5" y="344.5" font-size="10.2" text-anchor="start" font-weight="normal" font-style="normal" fill="#222" textLength="57.3" lengthAdjust="spacingAndGlyphs" stroke="#222" stroke-width="0.12">Cytoskeleton</text>
<text x="260.5" y="365.0" font-size="10.6" text-anchor="start" font-weight="normal" font-style="italic" fill="#e8f6fa" textLength="34.6" lengthAdjust="spacingAndGlyphs">SPTBN1</text>
<text x="340" y="35.7" font-size="10" text-anchor="start" font-weight="normal" font-style="normal" fill="#222" textLength="99.2" lengthAdjust="spacingAndGlyphs" stroke="#222" stroke-width="0.12">Prevalence of MVP (%)</text>
<g stroke="#4a4a4a" stroke-width="1.2" fill="none"><path d="M380 40.2 V184"/>
<path d="M375.5 51.4 H380"/>
<path d="M375.5 70.8 H380"/>
<path d="M375.5 90.3 H380"/>
<path d="M375.5 109.9 H380"/>
<path d="M375.5 129.7 H380"/>
<path d="M375.5 149.5 H380"/>
<path d="M375.5 169.4 H380"/>
<path d="M384.5 185.9 H521"/>
<path d="M384.5 185.9 v2.4"/>
<path d="M418.7 185.9 v2.4"/>
<path d="M452.9 185.9 v2.4"/>
<path d="M486.8 185.9 v2.4"/>
<path d="M521 185.9 v2.4"/>
</g>
<text x="372.6" y="55.1" font-size="10.6" text-anchor="end" font-weight="normal" font-style="normal" fill="#222" textLength="28.4" lengthAdjust="spacingAndGlyphs" stroke="#222" stroke-width="0.12">0.0026</text>
<text x="372.6" y="94.0" font-size="10.6" text-anchor="end" font-weight="normal" font-style="normal" fill="#222" textLength="28.4" lengthAdjust="spacingAndGlyphs" stroke="#222" stroke-width="0.12">0.0022</text>
<text x="372.6" y="133.39999999999998" font-size="10.6" text-anchor="end" font-weight="normal" font-style="normal" fill="#222" textLength="28.4" lengthAdjust="spacingAndGlyphs" stroke="#222" stroke-width="0.12">0.0018</text>
<text x="372.6" y="173.1" font-size="10.6" text-anchor="end" font-weight="normal" font-style="normal" fill="#222" textLength="28.4" lengthAdjust="spacingAndGlyphs" stroke="#222" stroke-width="0.12">0.0014</text>
<text x="384.5" y="194.6" font-size="9.6" text-anchor="middle" font-weight="normal" font-style="normal" fill="#222" textLength="4.8" lengthAdjust="spacingAndGlyphs" stroke="#222" stroke-width="0.12">1</text>
<text x="418.7" y="194.6" font-size="9.6" text-anchor="middle" font-weight="normal" font-style="normal" fill="#222" textLength="4.8" lengthAdjust="spacingAndGlyphs" stroke="#222" stroke-width="0.12">2</text>
<text x="452.9" y="194.6" font-size="9.6" text-anchor="middle" font-weight="normal" font-style="normal" fill="#222" textLength="4.8" lengthAdjust="spacingAndGlyphs" stroke="#222" stroke-width="0.12">3</text>
<text x="486.8" y="194.6" font-size="9.6" text-anchor="middle" font-weight="normal" font-style="normal" fill="#222" textLength="4.8" lengthAdjust="spacingAndGlyphs" stroke="#222" stroke-width="0.12">4</text>
<text x="521" y="194.6" font-size="9.6" text-anchor="middle" font-weight="normal" font-style="normal" fill="#222" textLength="4.8" lengthAdjust="spacingAndGlyphs" stroke="#222" stroke-width="0.12">5</text>
<text x="370.8" y="207.4" font-size="10.3" text-anchor="start" font-weight="normal" font-style="normal" fill="#222" textLength="162.2" lengthAdjust="spacingAndGlyphs" stroke="#222" stroke-width="0.12">Quintiles of Polygenic Score for MVP</text>
<circle cx="384.5" cy="177.7" r="2.9" fill="#f1f6f9" stroke="#8a8f94" stroke-width="0.9"/>
<circle cx="418.7" cy="165" r="2.9" fill="#a6c8e4" stroke="#7f95a8" stroke-width="0.9"/>
<circle cx="452.9" cy="145.1" r="2.9" fill="#6c86c8" stroke="#55679a" stroke-width="0.9"/>
<circle cx="486.8" cy="135.3" r="2.9" fill="#7c3f9f" stroke="#66378a" stroke-width="0.9"/>
<circle cx="521" cy="45.4" r="2.9" fill="#7b1179" stroke="#6b1069" stroke-width="0.9"/>
<rect x="532.5" y="63.3" width="68" height="96" rx="8" fill="#f3f3f3" filter="url(#sh)"/>
<text x="547.6" y="78.3" font-size="10.3" text-anchor="start" font-weight="normal" font-style="normal" fill="#2a2a2c" textLength="37.2" lengthAdjust="spacingAndGlyphs" stroke="#2a2a2c" stroke-width="0.12">Top 20%</text>
<circle cx="567" cy="94.4" r="7.2" fill="#0c5a97"/>
<text x="567" y="97.2" font-size="8" text-anchor="middle" font-weight="bold" font-style="normal" fill="#fff">vs</text>
<text x="539.4" y="116.9" font-size="10.3" text-anchor="start" font-weight="normal" font-style="normal" fill="#2a2a2c" textLength="53.6" lengthAdjust="spacingAndGlyphs" stroke="#2a2a2c" stroke-width="0.12">Bottom 80%</text>
<text x="536.9" y="139.6" font-size="11.4" text-anchor="start" font-weight="bold" font-style="normal" fill="#1d1d1f" textLength="59.3" lengthAdjust="spacingAndGlyphs">Odds Ratio</text>
<text x="555.7" y="153.6" font-size="11.4" text-anchor="start" font-weight="bold" font-style="normal" fill="#1d1d1f" textLength="22" lengthAdjust="spacingAndGlyphs">1.79</text>
<text x="361.7" y="231.2" font-size="10" text-anchor="start" font-weight="normal" font-style="normal" fill="#222" textLength="43.4" lengthAdjust="spacingAndGlyphs" stroke="#222" stroke-width="0.12">Sensitivity</text>
<g stroke="#4a4a4a" stroke-width="1.2" fill="none"><path d="M380.3 239 V377.7 H526"/>
<path d="M375.2 372.7 H380.5"/>
<path d="M515.9 377.7 v3.4"/>
<path d="M375.2 346.6 H380.5"/>
<path d="M489.6 377.7 v3.4"/>
<path d="M375.2 320.5 H380.5"/>
<path d="M463.4 377.7 v3.4"/>
<path d="M375.2 294.5 H380.5"/>
<path d="M437.1 377.7 v3.4"/>
<path d="M375.2 268.4 H380.5"/>
<path d="M410.9 377.7 v3.4"/>
<path d="M375.2 242.3 H380.5"/>
<path d="M384.6 377.7 v3.4"/>
</g>
<text x="372.8" y="376.3" font-size="10.3" text-anchor="end" font-weight="normal" font-style="normal" fill="#222" textLength="11.8" lengthAdjust="spacingAndGlyphs" stroke="#222" stroke-width="0.12">0.0</text>
<text x="515.9" y="391.2" font-size="10.3" text-anchor="middle" font-weight="normal" font-style="normal" fill="#222" textLength="11.8" lengthAdjust="spacingAndGlyphs" stroke="#222" stroke-width="0.12">0.0</text>
<text x="372.8" y="350.22" font-size="10.3" text-anchor="end" font-weight="normal" font-style="normal" fill="#222" textLength="11.8" lengthAdjust="spacingAndGlyphs" stroke="#222" stroke-width="0.12">0.2</text>
<text x="489.64" y="391.2" font-size="10.3" text-anchor="middle" font-weight="normal" font-style="normal" fill="#222" textLength="11.8" lengthAdjust="spacingAndGlyphs" stroke="#222" stroke-width="0.12">0.2</text>
<text x="372.8" y="324.14" font-size="10.3" text-anchor="end" font-weight="normal" font-style="normal" fill="#222" textLength="11.8" lengthAdjust="spacingAndGlyphs" stroke="#222" stroke-width="0.12">0.4</text>
<text x="463.38" y="391.2" font-size="10.3" text-anchor="middle" font-weight="normal" font-style="normal" fill="#222" textLength="11.8" lengthAdjust="spacingAndGlyphs" stroke="#222" stroke-width="0.12">0.4</text>
<text x="372.8" y="298.06000000000006" font-size="10.3" text-anchor="end" font-weight="normal" font-style="normal" fill="#222" textLength="11.8" lengthAdjust="spacingAndGlyphs" stroke="#222" stroke-width="0.12">0.6</text>
<text x="437.12" y="391.2" font-size="10.3" text-anchor="middle" font-weight="normal" font-style="normal" fill="#222" textLength="11.8" lengthAdjust="spacingAndGlyphs" stroke="#222" stroke-width="0.12">0.6</text>
<text x="372.8" y="271.98" font-size="10.3" text-anchor="end" font-weight="normal" font-style="normal" fill="#222" textLength="11.8" lengthAdjust="spacingAndGlyphs" stroke="#222" stroke-width="0.12">0.8</text>
<text x="410.86" y="391.2" font-size="10.3" text-anchor="middle" font-weight="normal" font-style="normal" fill="#222" textLength="11.8" lengthAdjust="spacingAndGlyphs" stroke="#222" stroke-width="0.12">0.8</text>
<text x="372.8" y="245.9" font-size="10.3" text-anchor="end" font-weight="normal" font-style="normal" fill="#222" textLength="11.8" lengthAdjust="spacingAndGlyphs" stroke="#222" stroke-width="0.12">1.0</text>
<text x="384.6" y="391.2" font-size="10.3" text-anchor="middle" font-weight="normal" font-style="normal" fill="#222" textLength="11.8" lengthAdjust="spacingAndGlyphs" stroke="#222" stroke-width="0.12">1.0</text>
<text x="431.2" y="402.7" font-size="10.2" text-anchor="start" font-weight="normal" font-style="normal" fill="#222" textLength="43.4" lengthAdjust="spacingAndGlyphs" stroke="#222" stroke-width="0.12">Specificity</text>
<line x1="381.5" y1="375.8" x2="520" y2="239" stroke="#dcdcdc" stroke-width="1"/>
<path d="M384.6 372.7 L385.5 370.0 L386.6 366.4 L387.4 365.0 L388.7 361.6 L390.3 359.5 L391.5 357.2 L392.7 354.5 L394.1 353.3 L395.4 351.1 L396.9 348.1 L398.3 346.7 L399.5 343.9 L401.2 342.5 L402.6 341.3 L404.2 339.6 L405.5 337.6 L407.0 336.1 L408.8 333.1 L410.1 331.5 L412.2 329.9 L413.7 327.9 L415.3 326.2 L416.9 324.6 L418.8 323.4 L420.7 321.8 L422.5 320.3 L424.2 317.5 L426.1 317.0 L427.9 314.8 L429.5 312.5 L431.3 311.2 L432.7 308.6 L434.8 308.1 L436.1 306.0 L437.9 303.3 L439.6 302.5 L441.7 299.9 L443.3 298.2 L445.1 297.0 L446.9 296.3 L448.4 294.8 L450.0 292.0 L451.9 290.4 L453.4 289.4 L455.3 287.5 L456.7 287.0 L458.6 285.7 L460.7 283.5 L462.1 282.3 L463.9 281.0 L465.6 279.6 L467.5 278.0 L469.2 276.7 L471.0 274.5 L473.4 273.2 L475.1 270.9 L477.0 270.1 L478.5 268.8 L480.7 266.7 L482.5 265.9 L484.3 264.4 L486.1 263.6 L487.5 261.3 L489.7 261.2 L491.3 259.1 L493.4 257.5 L495.1 256.1 L496.9 255.1 L499.0 253.3 L501.4 251.2 L503.3 250.6 L505.3 248.3 L508.4 246.6 L510.8 245.2 L513.9 243.2 L516.5 242.3" fill="none" stroke="#7ad3c0" stroke-width="1.05" stroke-linejoin="round"/>
<path d="M384.6 372.7 L384.9 370.6 L385.1 368.0 L385.0 365.0 L385.9 362.1 L386.4 358.6 L386.9 356.4 L387.6 354.4 L388.1 351.7 L389.1 350.2 L390.2 347.3 L391.1 345.0 L392.2 342.7 L393.1 341.2 L394.4 338.2 L395.9 336.7 L396.7 334.6 L398.0 332.2 L399.5 329.9 L401.4 327.5 L403.3 325.3 L404.9 323.7 L406.7 322.1 L408.5 321.1 L410.2 319.0 L412.1 316.5 L414.1 314.5 L415.4 312.7 L417.1 310.6 L418.7 308.8 L420.1 307.8 L421.7 305.9 L423.8 303.8 L425.6 301.4 L427.6 300.5 L429.2 298.5 L431.0 296.9 L432.4 294.6 L434.0 293.3 L435.6 291.2 L437.6 289.4 L439.1 287.4 L440.8 284.8 L442.8 283.6 L444.4 281.8 L446.2 279.4 L447.9 277.5 L449.5 275.6 L451.6 275.0 L453.2 272.6 L455.4 271.7 L457.0 269.9 L459.0 269.2 L461.0 267.5 L462.8 266.7 L464.8 265.0 L467.1 263.5 L469.1 263.1 L471.1 261.8 L472.8 260.3 L474.9 259.3 L476.9 257.4 L479.2 256.4 L481.2 255.2 L483.0 254.7 L486.0 253.5 L489.0 252.6 L491.5 252.6 L494.3 251.3 L496.6 250.0 L498.9 248.9 L501.6 248.4 L503.9 247.3 L506.1 246.3 L508.1 245.4 L509.9 244.4 L512.1 243.6 L514.4 243.1 L516.5 242.3" fill="none" stroke="#4a4a4a" stroke-width="1.05" stroke-linejoin="round"/>
<path d="M384.6 372.7 L384.7 370.8 L384.9 368.2 L385.5 365.6 L385.9 363.4 L386.2 360.5 L387.1 358.0 L388.1 355.0 L388.9 352.3 L390.0 350.4 L391.4 347.8 L392.6 345.2 L393.8 342.3 L395.2 340.7 L396.2 338.1 L397.3 336.2 L398.4 334.8 L399.9 332.6 L401.7 329.4 L403.0 327.5 L404.7 325.4 L406.9 323.1 L408.6 321.1 L410.2 320.0 L411.7 317.3 L413.2 315.9 L414.8 313.6 L416.5 312.7 L418.0 310.4 L419.6 308.3 L421.0 306.7 L422.7 305.8 L424.2 303.8 L426.1 301.8 L427.6 301.0 L429.7 298.1 L431.4 297.0 L433.1 294.6 L434.8 292.4 L436.8 290.8 L438.6 288.6 L440.2 287.6 L442.0 285.5 L443.9 284.1 L445.9 281.3 L447.9 279.7 L449.7 277.7 L451.5 276.2 L453.2 274.9 L455.0 273.4 L456.8 271.8 L459.1 270.1 L461.1 268.5 L463.1 267.3 L464.9 266.5 L467.0 264.7 L469.1 263.5 L471.1 262.1 L473.1 261.0 L474.8 260.5 L476.9 259.3 L479.2 257.8 L480.8 256.1 L483.6 255.3 L486.4 254.8 L488.9 252.8 L491.6 251.8 L493.9 251.3 L496.7 249.8 L499.0 249.3 L501.6 247.9 L504.2 246.7 L506.1 246.3 L508.2 245.1 L509.8 243.7 L512.2 243.2 L514.4 242.5 L516.5 242.3" fill="none" stroke="#a659ee" stroke-width="1.05" stroke-linejoin="round"/>
<line x1="505.8" x2="515" y1="303.6" y2="303.6" stroke="#333" stroke-width="1.2"/>
<line x1="505.8" x2="515" y1="314.9" y2="314.9" stroke="#b26cf0" stroke-width="1.2"/>
<line x1="505.8" x2="515" y1="326.2" y2="326.2" stroke="#86d9c6" stroke-width="1.2"/>
<text x="518.6" y="306.6" font-size="9.3" text-anchor="start" font-weight="normal" font-style="normal" fill="#222" textLength="81" lengthAdjust="spacingAndGlyphs" stroke="#222" stroke-width="0.12">Clinical RF+PRS MVP</text>
<text x="518.6" y="318" font-size="9.3" text-anchor="start" font-weight="normal" font-style="normal" fill="#222" textLength="40" lengthAdjust="spacingAndGlyphs" stroke="#222" stroke-width="0.12">Clinical RF</text>
<text x="518.6" y="329.4" font-size="9.3" text-anchor="start" font-weight="normal" font-style="normal" fill="#222" textLength="36" lengthAdjust="spacingAndGlyphs" stroke="#222" stroke-width="0.12">PRS MVP</text>
</svg></body></html>
